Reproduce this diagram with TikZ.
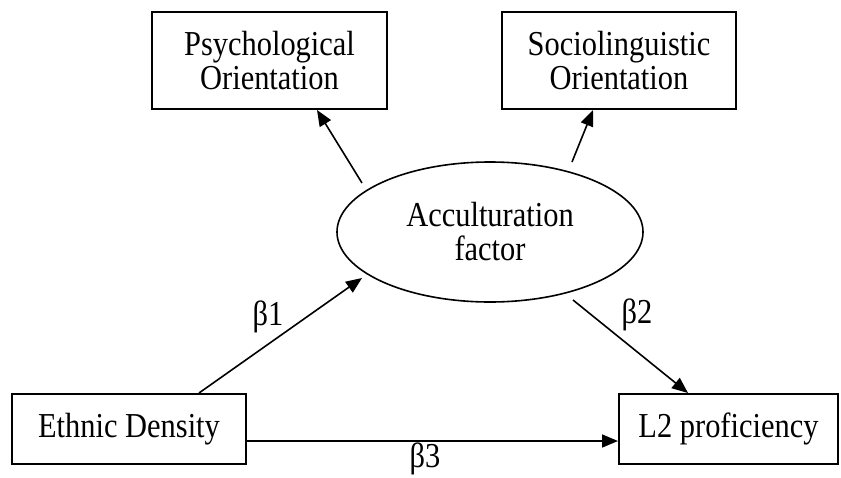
\documentclass[tikz,border=0pt]{standalone}
\usepackage{fontspec}
\setmainfont{Liberation Serif}
\newfontfamily\tallserif[FakeStretch=0.87]{Liberation Serif}
\usetikzlibrary{arrows.meta,calc,shapes.geometric}
\begin{document}
\begin{tikzpicture}[x=1pt,y=-1pt,
  txt/.style={font=\tallserif\fontsize{35}{34}\selectfont, align=center},
  boxnode/.style={txt, draw, line width=2pt, rectangle, inner sep=0pt},
  ellnode/.style={txt, draw, line width=1.6pt, ellipse, inner sep=0pt},
  conn/.style={line width=1.6pt, -{Triangle[length=16pt,width=13pt]}},
  lab/.style={font=\tallserif\fontsize{35}{34}\selectfont, anchor=base, inner sep=0pt}]
\useasboundingbox (0,0) rectangle (841,477);
\node[boxnode, minimum width=235pt, minimum height=97pt] (P) at (269.5,60.5) {Psychological\\Orientation};
\node[boxnode, minimum width=234pt, minimum height=97pt] (S) at (619,60.5) {Sociolinguistic\\Orientation};
\node[ellnode, minimum width=306pt, minimum height=140pt] (A) at (490,232) {Acculturation\\factor};
\node[boxnode, minimum width=234pt, minimum height=70pt] (E) at (129,429) {Ethnic Density};
\node[boxnode, minimum width=219pt, minimum height=70pt] (L) at (728.5,429) {L2 proficiency};
% connectors
\draw[conn] ($(A.center)+(-128,-49)$) -- ($(P.south)+(47.5,0)$);
\draw[conn] ($(A.center)+(82,-70)$) -- ($(S.south)+(-26,0)$);
\draw[conn] ($(E.north)+(70,0)$) -- ($(A.center)+(-128,46)$);
\draw[conn] ($(A.center)+(83,68)$) -- ($(L.north)+(-40.5,0)$);
\draw[conn] ($(E.east)+(0,12)$) -- ($(L.west)+(0,12)$);
% labels
\node[lab] (b1) at (268,325) {β1};
\node[lab] (b2) at (637,323) {β2};
\node[lab] (b3) at (425,467) {β3};
\end{tikzpicture}
\end{document}
